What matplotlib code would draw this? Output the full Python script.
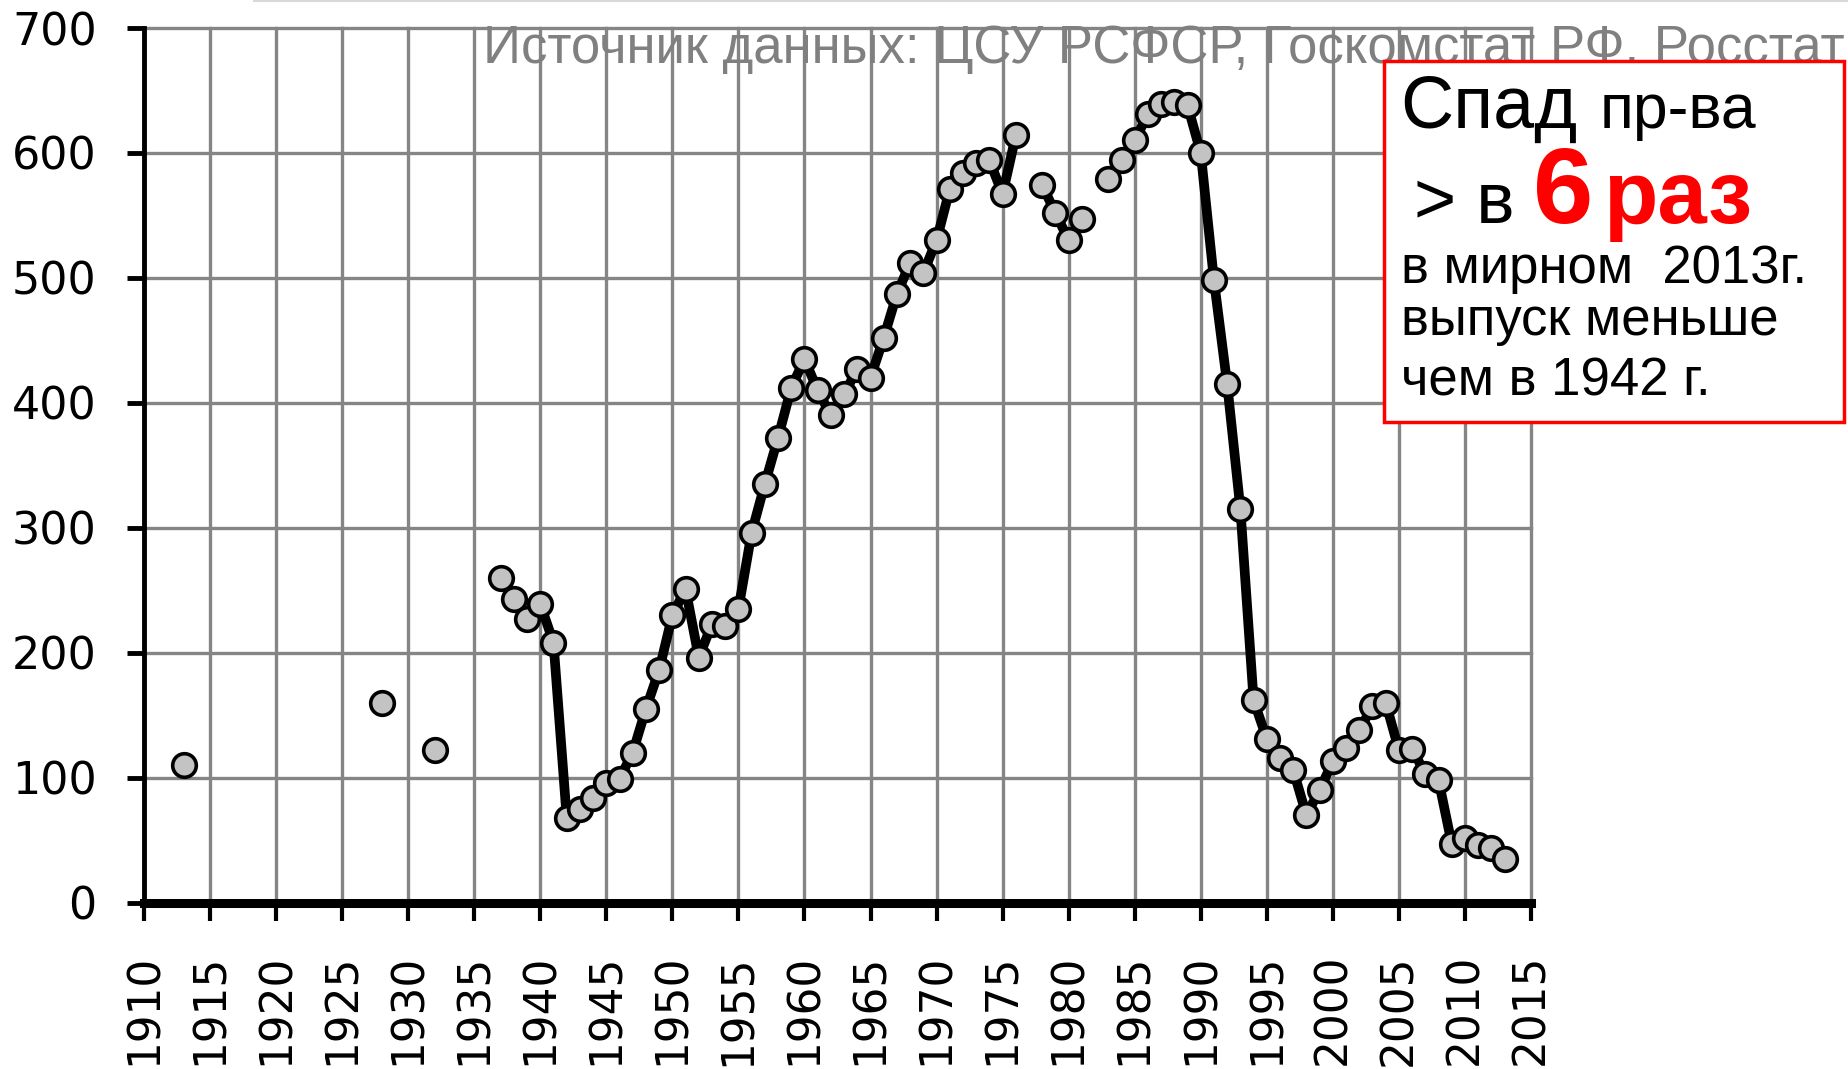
import numpy as np
import matplotlib.pyplot as plt
from matplotlib.patches import Rectangle
from matplotlib.lines import Line2D

# production by year (gaps = no data)
years = [1913, 1928, 1932,
         1937, 1938, 1939, 1940, 1941, 1942, 1943, 1944, 1945, 1946,
         1947, 1948, 1949, 1950, 1951, 1952, 1953, 1954, 1955, 1956,
         1957, 1958, 1959, 1960, 1961, 1962, 1963, 1964, 1965, 1966,
         1967, 1968, 1969, 1970, 1971, 1972, 1973, 1974, 1975, 1976,
         1978, 1979, 1980, 1981,
         1983, 1984, 1985, 1986, 1987, 1988, 1989, 1990, 1991, 1992,
         1993, 1994, 1995, 1996, 1997, 1998, 1999, 2000, 2001, 2002,
         2003, 2004, 2005, 2006, 2007, 2008, 2009, 2010, 2011, 2012, 2013]
output = [110, 160, 122,
          260, 243, 227, 239, 208, 68, 75, 84, 96, 99,
          120, 155, 186, 230, 251, 196, 223, 221, 235, 296,
          335, 372, 412, 435, 410, 390, 407, 427, 420, 452,
          487, 512, 504, 530, 571, 584, 592, 594, 567, 614,
          574, 552, 530, 547,
          579, 594, 610, 631, 639, 641, 638, 600, 498, 415,
          315, 162, 131, 116, 106, 70, 90, 113, 124, 138,
          157, 160, 122, 123, 103, 98, 47, 52, 46, 44, 35]

x_ticks = list(range(1910, 2016, 5))
y_ticks = list(range(0, 701, 100))

source_text = "Источник данных: ЦСУ РСФСР, Госкомстат РФ, Росстат"

W, H = 1849, 1069
fig = plt.figure(figsize=(W / 100, H / 100), dpi=100)
ax = fig.add_axes([144 / W, 1 - 902.5 / H, (1531 - 144) / W, (902.5 - 28) / H])

# connect only consecutive years
xs, ys = [], []
for i, (yr, v) in enumerate(zip(years, output)):
    if i and yr - years[i - 1] > 1:
        xs.append(np.nan)
        ys.append(np.nan)
    xs.append(yr)
    ys.append(v)
ax.plot(xs, ys, color='black', lw=7, zorder=3)
ax.plot(years, output, ls='none', marker='o', ms=17, mfc='#c3c3c3',
        mec='black', mew=2.6, zorder=4)

ax.set_xlim(1910, 2015)
ax.set_ylim(0, 700)
ax.set_xticks(x_ticks)
ax.set_yticks(y_ticks)
ax.grid(True, color='#858585', lw=2.4)
ax.set_axisbelow(True)
for gl in ax.get_xgridlines() + ax.get_ygridlines():
    gl.set_clip_on(False)

for side in ['top', 'right']:
    ax.spines[side].set_visible(False)
ax.spines['left'].set_linewidth(3.5)
ax.spines['bottom'].set_linewidth(6.5)
ax.tick_params(axis='y', labelsize=32, length=12, width=3.5, pad=22)
ax.tick_params(axis='x', labelsize=31.5, length=13, width=3, pad=24,
               labelrotation=90)

fig.add_artist(Line2D([254 / W, 1], [1 - 1 / H, 1 - 1 / H], color='#d9d9d9', lw=1.5))

fig.text(1845 / W, 1 - 63 / H, source_text, ha='right', va='baseline',
         fontsize=38, color='#808080', family='Liberation Sans', zorder=2)

fig.add_artist(Rectangle((1384 / W, 1 - 422 / H), (1844 - 1384) / W, (422 - 61) / H,
                         transform=fig.transFigure, fc='white', ec='red', lw=2.5, zorder=5))


def box_text(x, y, s, size, **kw):
    fig.text(x / W, 1 - y / H, s, ha='left', va='baseline', fontsize=size,
             family='Liberation Sans', zorder=6, **kw)


box_text(1400, 128, "Спад", 53)
box_text(1600, 128, "пр-ва", 45)
box_text(1414, 223, "> в", 52)
box_text(1533, 223, "6", 78, color='red', fontweight='bold')
box_text(1603, 223, "раз", 64, color='red', fontweight='bold')
box_text(1401, 283, "в мирном  2013г.", 38)
box_text(1401, 335, "выпуск меньше", 38)
box_text(1401, 395, "чем в 1942 г.", 38)

fig.savefig('out.png', dpi=100)
